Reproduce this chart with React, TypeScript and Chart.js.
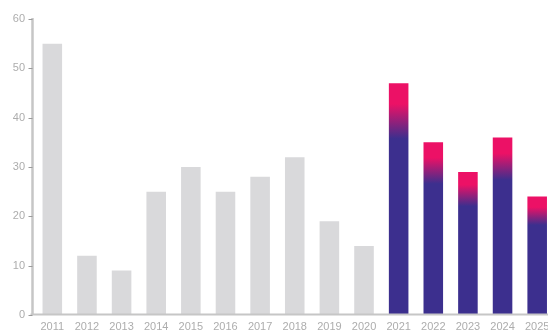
import React, { useEffect, useRef } from "react";
import { Chart, registerables } from "chart.js";

Chart.register(...registerables);

const years = ["2011","2012","2013","2014","2015","2016","2017","2018","2019","2020","2021","2022","2023","2024","2025"];
const historyValues = [55, 12, 9, 25, 30, 25, 28, 32, 19, 14, null, null, null, null, null];
const forecastValues = [null, null, null, null, null, null, null, null, null, null, 47, 35, 29, 36, 24];
const yTicks = [0, 10, 20, 30, 40, 50, 60];

const GREY = "#d9d9db";
const PURPLE = "#3c2f8e";
const PINK = "#ec1166";
const AXIS = "#c6c6c6";
const LABEL = "#adadad";

const axisPlugin = {
  id: "customAxis",
  afterDatasetsDraw(chart: any) {
    const { ctx, chartArea, scales } = chart;
    const x0 = chartArea.left - 2.5;
    ctx.save();
    ctx.strokeStyle = AXIS;
    ctx.lineWidth = 2.5;
    ctx.beginPath();
    ctx.moveTo(x0, chartArea.top - 1);
    ctx.lineTo(x0, chartArea.bottom);
    ctx.stroke();
    ctx.lineWidth = 2;
    ctx.beginPath();
    ctx.moveTo(x0 - 2, chartArea.bottom - 0.5);
    ctx.lineTo(chart.width, chartArea.bottom - 0.5);
    ctx.stroke();
    ctx.lineWidth = 1;
    ctx.strokeStyle = "#9a9a9a";
    for (const t of yTicks) {
      const y = Math.round(scales.y.getPixelForValue(t)) + 0.5;
      ctx.beginPath();
      ctx.moveTo(x0 - 4, y);
      ctx.lineTo(x0, y);
      ctx.stroke();
    }
    ctx.restore();
  },
};

export default function App() {
  const ref = useRef<HTMLCanvasElement>(null);
  useEffect(() => {
    if (!ref.current) return;
    const chart = new Chart(ref.current, {
      type: "bar",
      data: {
        labels: years,
        datasets: [
          {
            data: historyValues as any,
            backgroundColor: GREY,
            grouped: false,
            barPercentage: 0.565,
            categoryPercentage: 1,
          } as any,
          {
            data: forecastValues as any,
            grouped: false,
            barPercentage: 0.565,
            categoryPercentage: 1,
            backgroundColor: (c: any) => {
              const chart = c.chart;
              const ys = chart.scales?.y;
              const v = c.raw;
              if (!ys || v == null || !chart.chartArea) return PURPLE;
              const top = ys.getPixelForValue(v);
              const bottom = ys.getPixelForValue(0);
              const g = chart.ctx.createLinearGradient(0, top, 0, bottom);
              g.addColorStop(0, PINK);
              g.addColorStop(0.09, PINK);
              g.addColorStop(0.24, PURPLE);
              g.addColorStop(1, PURPLE);
              return g;
            },
          } as any,
        ],
      },
      options: {
        animation: false,
        responsive: false,
        layout: { padding: { top: 19, right: 5.5, left: 0, bottom: 0 } },
        plugins: { legend: { display: false }, tooltip: { enabled: false } },
        scales: {
          x: {
            grid: { display: false, drawTicks: false },
            border: { display: false },
            ticks: {
              color: LABEL,
              font: { family: "Liberation Sans", size: 11 },
              padding: 5,
              maxRotation: 0,
              autoSkip: false,
            },
            afterFit: (s: any) => {
              s.height = 20;
            },
          },
          y: {
            min: 0,
            max: 60,
            grid: { display: false, drawTicks: false },
            border: { display: false },
            ticks: {
              stepSize: 10,
              color: LABEL,
              font: { family: "Liberation Sans", size: 11 },
              padding: 10,
            },
            afterFit: (s: any) => {
              s.width = 35;
            },
          },
        },
      },
      plugins: [axisPlugin],
    });
    return () => chart.destroy();
  }, []);
  return (
    <div style={{ position: "fixed", left: 0, top: 0, width: 548, height: 335, overflow: "hidden", background: "#fff" }}>
      <canvas ref={ref} width={560} height={335} style={{ display: "block", width: 560, height: 335 }} />
    </div>
  );
}
